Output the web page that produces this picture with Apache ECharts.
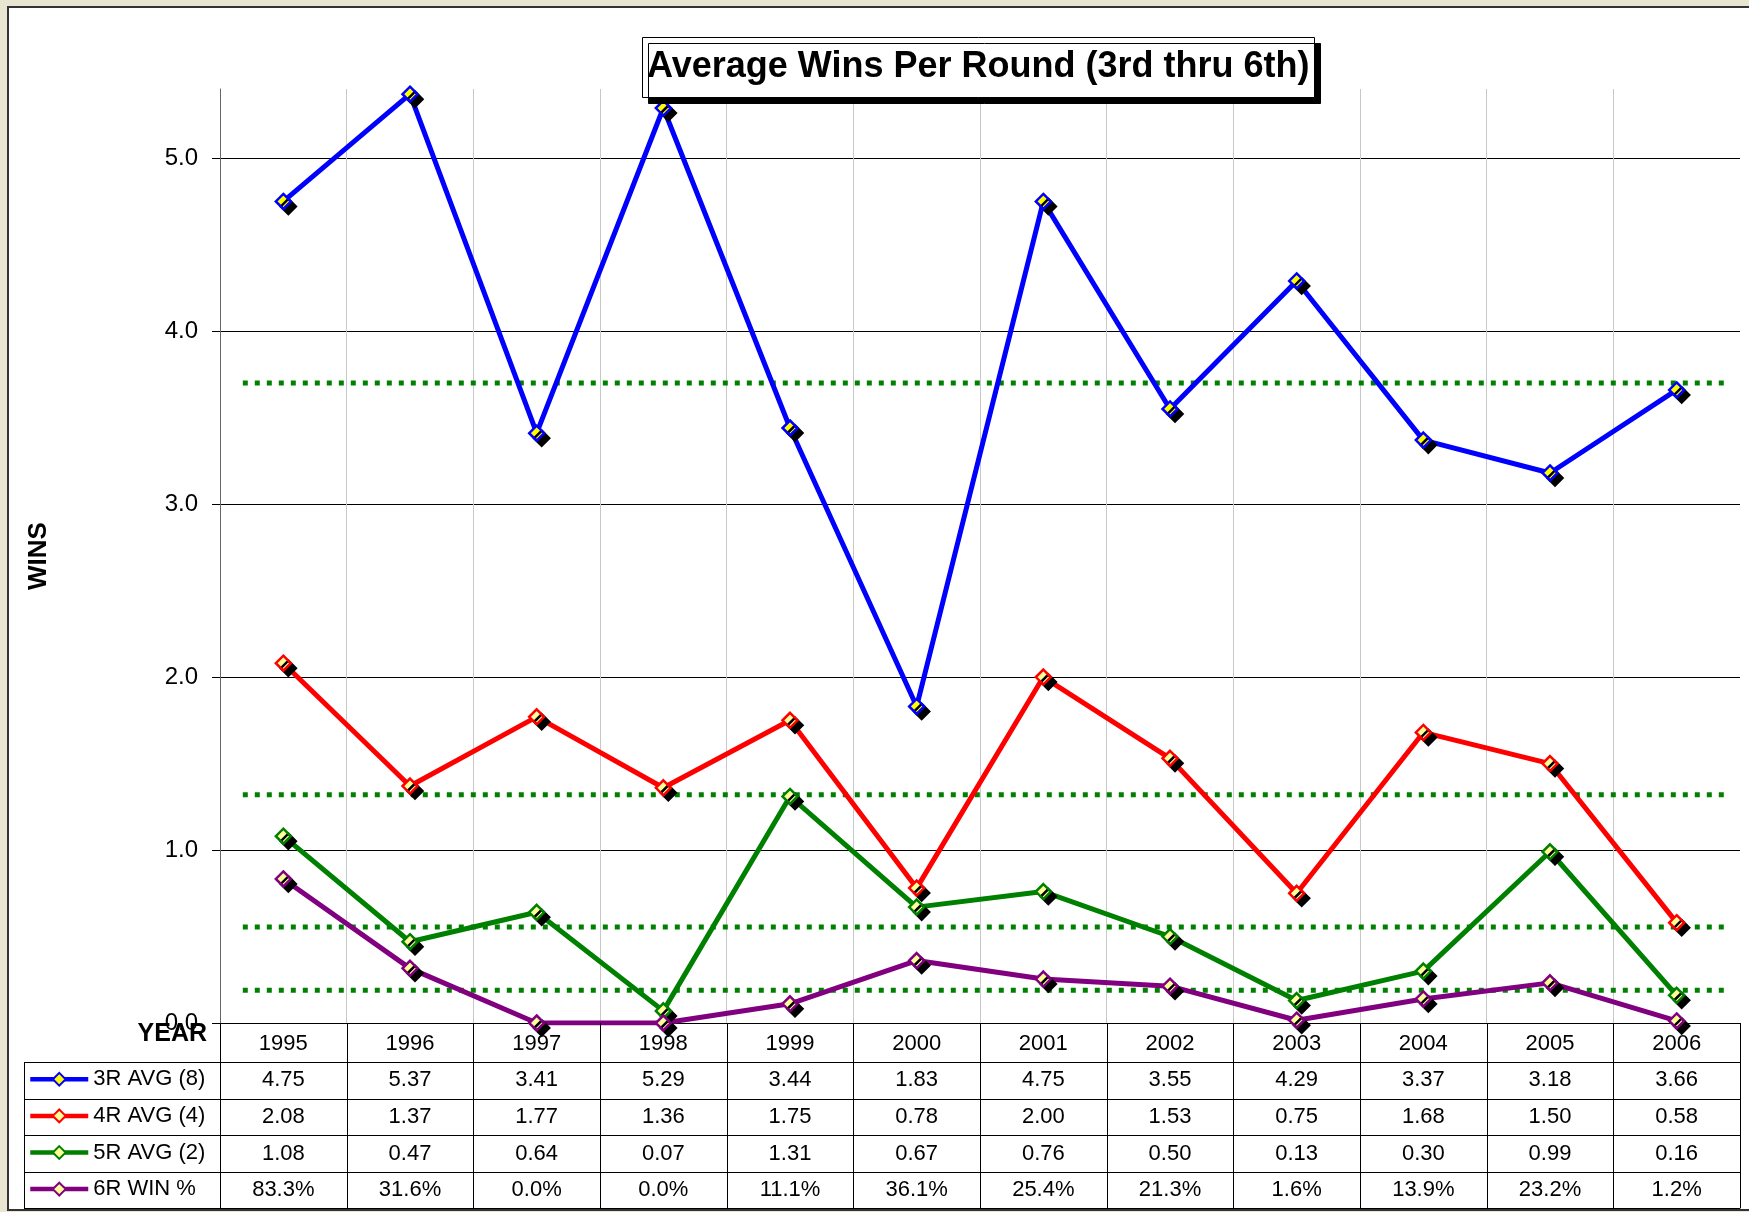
<!DOCTYPE html>
<html>
<head>
<meta charset="utf-8">
<title>Average Wins Per Round</title>
<script src="https://cdn.jsdelivr.net/npm/echarts@6/dist/echarts.min.js"></script>
<style>
    html, body { margin: 0; padding: 0; background: #e8e6d1; }
    #main { width: 1749px; height: 1212px; }
</style>
</head>
<body>
<div id="main"></div>
<script>
    // data
    var years = ['1995', '1996', '1997', '1998', '1999', '2000', '2001', '2002', '2003', '2004', '2005', '2006'];
    var r3Avg = [4.75, 5.37, 3.41, 5.29, 3.44, 1.83, 4.75, 3.55, 4.29, 3.37, 3.18, 3.66];
    var r4Avg = [2.08, 1.37, 1.77, 1.36, 1.75, 0.78, 2.00, 1.53, 0.75, 1.68, 1.50, 0.58];
    var r5Avg = [1.08, 0.47, 0.64, 0.07, 1.31, 0.67, 0.76, 0.50, 0.13, 0.30, 0.99, 0.16];
    var r6WinPct = [83.3, 31.6, 0.0, 0.0, 11.1, 36.1, 25.4, 21.3, 1.6, 13.9, 23.2, 1.2];
    var seriesNames = ['3R AVG (8)', '4R AVG (4)', '5R AVG (2)', '6R WIN %'];
    // dotted green reference lines
    var avgLines = [3.70, 1.32, 0.555, 0.19];
    var yTicks = [0, 1, 2, 3, 4, 5];

    var FONT = '"Liberation Sans", Arial, sans-serif';
    var W = 1749, H = 1212;
    var gridL = 220, gridR = 9, gridT = 89, gridB = 189;
    var headH = 39, rowH = 36.6, tableL = 24;
    // dotted lines do not run the full plot width
    var dotFrom = 0.015, dotTo = 0.992;
    var lineColors = ['#0000ff', '#ff0000', '#008000', '#800080'];
    var fillColors = ['#ffff00', '#ffff99', '#ffff99', '#ffff99'];

    var r6Data = r6WinPct.map(function(v) { return v / 100; });
    var allData = [r3Avg, r4Avg, r5Avg, r6Data];

    function makeSeries(i) {
        return {
            name: seriesNames[i],
            type: 'line',
            data: allData[i],
            symbol: 'diamond',
            symbolSize: 15,
            z: 4,
            lineStyle: { color: lineColors[i], width: 5 },
            itemStyle: {
                color: fillColors[i],
                borderColor: lineColors[i],
                borderWidth: 2.5,
                shadowColor: '#000',
                shadowBlur: 0,
                shadowOffsetX: 5,
                shadowOffsetY: 5
            },
            emphasis: { disabled: true }
        };
    }

    function makeAvgLine(i) {
        return {
            type: 'line',
            xAxisIndex: 1,
            data: [[dotFrom, avgLines[i]], [dotTo, avgLines[i]]],
            symbol: 'none',
            silent: true,
            z: 2,
            lineStyle: { color: '#008000', type: [5, 7], width: 5, cap: 'butt' }
        };
    }

    var majorColors = yTicks.map(function() { return '#000'; });
    majorColors.push('rgba(0,0,0,0)');
    var minorColors = [];
    for (var k = 0; k < 27; k++) minorColors.push('#c8c8c8');
    minorColors.push('rgba(0,0,0,0)');
    var xSplitColors = [];
    for (var k2 = 0; k2 < years.length; k2++) xSplitColors.push('#c8c8c8');
    xSplitColors.push('rgba(0,0,0,0)');

    var y0 = H - gridB;

    var chart = echarts.init(document.getElementById('main'));
    chart.setOption({
        animation: false,
        title: {
            text: 'Average Wins Per Round (3rd thru 6th)',
            left: 642,
            top: 37,
            padding: [12, 5, 13, 5],
            backgroundColor: '#fff',
            borderColor: '#000',
            borderWidth: 1,
            shadowColor: '#000',
            shadowBlur: 0,
            shadowOffsetX: 6,
            shadowOffsetY: 6,
            textStyle: { fontSize: 36, fontWeight: 'bold', fontFamily: FONT, color: '#000', lineHeight: 36 },
            z: 10
        },
        legend: seriesNames.map(function(name, i) {
            return {
                data: [name],
                left: tableL + 4,
                top: y0 + headH + rowH * i + rowH / 2 - 12,
                itemWidth: 58,
                itemHeight: 16,
                itemGap: 0,
                padding: 0,
                selectedMode: false,
                textStyle: { fontSize: 22, fontFamily: FONT, color: '#000' },
                lineStyle: { width: 4.5 },
                itemStyle: { shadowColor: 'rgba(0,0,0,0)', shadowOffsetX: 0, shadowOffsetY: 0 }
            };
        }),
        grid: { left: gridL, right: gridR, top: gridT, bottom: gridB },
        xAxis: [{
            type: 'category',
            data: years,
            boundaryGap: true,
            axisLine: { lineStyle: { color: '#000', width: 1 } },
            axisTick: { show: false },
            axisLabel: { show: false },
            splitLine: { show: true, lineStyle: { color: xSplitColors, width: 1 } }
        }, {
            type: 'value',
            min: 0,
            max: 1,
            show: false
        }],
        yAxis: [{
            type: 'value',
            min: 0,
            max: 5.4,
            interval: 0.2,
            name: 'WINS',
            nameLocation: 'middle',
            nameRotate: 90,
            nameGap: 168,
            nameTextStyle: { fontSize: 26, fontWeight: 'bold', fontFamily: FONT, color: '#000' },
            axisLine: { show: true, lineStyle: { color: '#666', width: 1 } },
            axisTick: { show: true, customValues: yTicks, length: 8, lineStyle: { color: '#000' } },
            axisLabel: {
                customValues: yTicks,
                margin: 22,
                fontSize: 24,
                fontFamily: FONT,
                color: '#000',
                formatter: function(v) { return v.toFixed(1); }
            },
            splitLine: { show: true, lineStyle: { color: minorColors, width: 1 } }
        }, {
            // major grid every 1.0
            type: 'value',
            position: 'left',
            min: 0,
            max: 5.4,
            interval: 1,
            axisLine: { show: false },
            axisTick: { show: false },
            axisLabel: { show: false },
            splitLine: { show: true, lineStyle: { color: majorColors, width: 1 } }
        }],
        series: [makeAvgLine(0), makeAvgLine(1), makeAvgLine(2), makeAvgLine(3),
            makeSeries(0), makeSeries(1), makeSeries(2), makeSeries(3)]
    });

    // data table under the plot
    function drawTable() {
        var zero = chart.convertToPixel({ yAxisIndex: 0 }, 0);
        var c0 = chart.convertToPixel({ xAxisIndex: 0 }, 0);
        var c1 = chart.convertToPixel({ xAxisIndex: 0 }, 1);
        var band = c1 - c0;
        var left = c0 - band / 2;
        var right = left + band * years.length;
        var bottom = zero + headH + rowH * 4;
        var els = [];
        var txt = function(text, x, y, align, size, bold) {
            return {
                type: 'text',
                z: 5,
                style: {
                    text: text, x: x, y: y,
                    fill: '#000',
                    font: (bold ? 'bold ' : '') + size + 'px ' + FONT,
                    textAlign: align, textVerticalAlign: 'middle',
                    align: align, verticalAlign: 'middle'
                }
            };
        };
        var ln = function(x1, y1, x2, y2) {
            return {
                type: 'line', z: 5,
                shape: { x1: x1, y1: y1, x2: x2, y2: y2 },
                style: { stroke: '#000', lineWidth: 1 }
            };
        };

        // chart frame
        els.push({
            type: 'rect', z: -10,
            shape: { x: 8, y: 7, width: W, height: H - 9 },
            style: { fill: '#fff', stroke: '#333', lineWidth: 2 }
        });

        // horizontal rules
        for (var r = 0; r <= 4; r++) {
            var yy = Math.round(zero + headH + rowH * r) + 0.5;
            els.push(ln(tableL, yy, right, yy));
        }
        // vertical rules
        for (var c = 0; c <= years.length; c++) {
            var xx = Math.round(left + band * c) + 0.5;
            els.push(ln(xx, zero, xx, bottom));
        }
        els.push(ln(tableL + 0.5, zero + headH, tableL + 0.5, bottom));

        els.push(txt('YEAR', left - 13, zero + 11, 'right', 25, true));

        years.forEach(function(y, i) {
            var cx = c0 + band * i;
            els.push(txt(y, cx, zero + headH / 2 + 1, 'center', 22));
            els.push(txt(r3Avg[i].toFixed(2), cx, zero + headH + rowH * 0.5, 'center', 22));
            els.push(txt(r4Avg[i].toFixed(2), cx, zero + headH + rowH * 1.5, 'center', 22));
            els.push(txt(r5Avg[i].toFixed(2), cx, zero + headH + rowH * 2.5, 'center', 22));
            els.push(txt(r6WinPct[i].toFixed(1) + '%', cx, zero + headH + rowH * 3.5, 'center', 22));
        });

        chart.setOption({ graphic: { elements: els } });
    }
    drawTable();
</script>
</body>
</html>
